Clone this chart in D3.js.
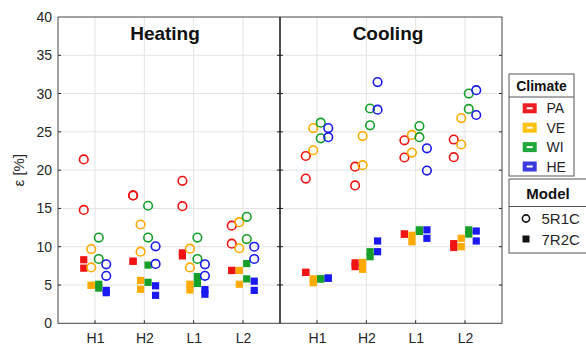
<!DOCTYPE html>
<html>
<head>
<meta charset="utf-8">
<script src="https://cdn.jsdelivr.net/npm/d3@7"></script>
<style>
  body { margin: 0; background: #fff; overflow: hidden; }
  svg { font-family: "Liberation Sans", Arial, sans-serif; display: block; }
</style>
</head>
<body>
<div id="wrapper"></div>
<script>
// 1. Data

const categories = ["H1", "H2", "L1", "L2"]
const climates = ["PA", "VE", "WI", "HE"]
const models = ["5R1C", "7R2C"]
const panels = ["Heating", "Cooling"]
const yTicks = [0, 5, 10, 15, 20, 25, 30, 35, 40]

// each row = one category, pairs in climate order PA, VE, WI, HE
const heating5R1C = [
  [[21.4, 14.8], [9.7, 7.3], [11.2, 8.4], [7.7, 6.2]],
  [[16.7, 16.7], [12.9, 9.35], [15.35, 11.2], [10.05, 7.75]],
  [[18.6, 15.3], [9.75, 7.3], [11.2, 8.4], [7.7, 6.2]],
  [[12.75, 10.4], [13.2, 9.8], [13.9, 11.0], [10.0, 8.4]],
]
const heating7R2C = [
  [[8.3, 7.2], [4.95, 4.95], [5.1, 4.6], [4.3, 4.0]],
  [[8.1, 8.1], [5.6, 4.45], [7.6, 5.35], [4.9, 3.65]],
  [[9.2, 8.8], [5.1, 4.35], [6.1, 5.2], [4.4, 3.8]],
  [[6.9, 6.9], [6.9, 5.1], [7.8, 5.8], [5.5, 4.3]],
]
const cooling5R1C = [
  [[21.85, 18.9], [25.5, 22.6], [26.2, 24.15], [25.5, 24.3]],
  [[20.45, 18.0], [24.45, 20.65], [28.05, 25.85], [31.5, 27.9]],
  [[23.9, 21.65], [24.6, 22.3], [25.75, 24.3], [22.85, 19.95]],
  [[24.0, 21.7], [26.8, 23.35], [30.0, 28.0], [30.45, 27.2]],
]
const cooling7R2C = [
  [[6.65, 6.65], [5.8, 5.3], [5.8, 5.8], [5.9, 5.9]],
  [[7.9, 7.4], [7.95, 7.05], [9.35, 8.7], [10.75, 9.35]],
  [[11.65, 11.65], [11.5, 10.65], [12.2, 12.0], [12.2, 11.1]],
  [[10.4, 9.9], [11.1, 10.0], [12.2, 11.65], [12.05, 10.75]],
]

const colors = ["#f01414", "#ffaa00", "#16a02a", "#1a1af0"]
const legendColors = ["#ee1c24", "#ffc20e", "#1fa83a", "#3a3adf"]

// 2. Dimensions

const dimensions = {
  width: 586,
  height: 349,
  left: 58,
  mid: 280,
  right: 502,
  top: 17,
  bottom: 323.3,
}

// 3. Canvas

const svg = d3.select("#wrapper")
  .append("svg")
  .attr("width", dimensions.width)
  .attr("height", dimensions.height)

// 4. Scales

const yScale = d3.scaleLinear()
  .domain([0, 40])
  .range([dimensions.bottom, dimensions.top])

const xScales = [
  d3.scalePoint().domain(categories).range([dimensions.left, dimensions.mid]).padding(0.75),
  d3.scalePoint().domain(categories).range([dimensions.mid, dimensions.right]).padding(0.75),
]
const offset = d3.scalePoint().domain(climates).range([-11.25, 11.25])
const colorScale = d3.scaleOrdinal().domain(climates).range(colors)
const legendColor = d3.scaleOrdinal().domain(climates).range(legendColors)

// grid
const grid = svg.append("g")
grid.selectAll(".hgrid")
  .data(yTicks.slice(1, -1))
  .join("line")
  .attr("x1", dimensions.left).attr("x2", dimensions.right)
  .attr("y1", d => yScale(d)).attr("y2", d => yScale(d))
  .attr("stroke", "#e3e3e3")
xScales.forEach(xs => {
  grid.append("g").selectAll("line")
    .data(categories)
    .join("line")
    .attr("x1", d => xs(d)).attr("x2", d => xs(d))
    .attr("y1", dimensions.top).attr("y2", dimensions.bottom)
    .attr("stroke", "#e3e3e3")
})

// 5. Points

const sets = [
  [heating5R1C, heating7R2C],
  [cooling5R1C, cooling7R2C],
]

sets.forEach((pair, p) => {
  const xs = xScales[p]
  const flat = (rows, model) => rows.flatMap((row, ci) =>
    row.flatMap((vals, k) => vals.map(v => ({
      cat: categories[ci], climate: climates[k], value: v, model
    }))))
  const circles = flat(pair[0], models[0])
  const squares = flat(pair[1], models[1])
  const g = svg.append("g")
  g.selectAll("rect")
    .data(squares)
    .join("rect")
    .attr("x", d => xs(d.cat) + offset(d.climate) - 3.6)
    .attr("y", d => yScale(d.value) - 3.6)
    .attr("width", 7.2)
    .attr("height", 7.2)
    .attr("fill", d => colorScale(d.climate))
  g.selectAll("circle")
    .data(circles)
    .join("circle")
    .attr("cx", d => xs(d.cat) + offset(d.climate))
    .attr("cy", d => yScale(d.value))
    .attr("r", 4.3)
    .attr("fill", "none")
    .attr("stroke", d => colorScale(d.climate))
    .attr("stroke-width", 1.6)
})

// 6. Axes

const axisColor = "#262626"
const yAxis = svg.append("g")
  .attr("transform", `translate(${dimensions.left},0)`)
  .call(d3.axisLeft(yScale).tickValues(yTicks).tickSize(0).tickPadding(6))
yAxis.select(".domain").remove()
yAxis.selectAll("text").attr("font-size", 14).attr("fill", axisColor)

xScales.forEach(xs => {
  const ax = svg.append("g")
    .attr("transform", `translate(0,${dimensions.bottom})`)
    .call(d3.axisBottom(xs).tickSize(0).tickPadding(10))
  ax.select(".domain").remove()
  ax.selectAll("text").attr("font-size", 14).attr("fill", axisColor)
  // inward ticks
  svg.append("g").selectAll("line")
    .data(categories)
    .join("line")
    .attr("x1", d => xs(d)).attr("x2", d => xs(d))
    .attr("y1", dimensions.bottom).attr("y2", dimensions.bottom - 3)
    .attr("stroke", axisColor)
})

// inward y ticks on all vertical borders
;[dimensions.left, dimensions.mid, dimensions.right].forEach((x, i) => {
  svg.append("g").selectAll("line")
    .data(yTicks.slice(1, -1))
    .join("line")
    .attr("x1", i === 2 ? x - 3 : x - (i === 1 ? 3 : 0))
    .attr("x2", x + (i === 2 ? 0 : 3))
    .attr("y1", d => yScale(d)).attr("y2", d => yScale(d))
    .attr("stroke", axisColor)
})

// frame
svg.append("rect")
  .attr("x", dimensions.left).attr("y", dimensions.top)
  .attr("width", dimensions.right - dimensions.left)
  .attr("height", dimensions.bottom - dimensions.top)
  .attr("fill", "none")
  .attr("stroke", "#444")
svg.append("line")
  .attr("x1", dimensions.mid).attr("x2", dimensions.mid)
  .attr("y1", dimensions.top).attr("y2", dimensions.bottom)
  .attr("stroke", "#111").attr("stroke-width", 1.5)

// y label
svg.append("text")
  .attr("transform", `translate(24,${(dimensions.top + dimensions.bottom) / 2}) rotate(-90)`)
  .attr("text-anchor", "middle")
  .attr("font-size", 15)
  .attr("fill", axisColor)
  .text("ε [%]")

// panel titles
panels.forEach((t, i) => {
  const xs = xScales[i]
  svg.append("text")
    .attr("x", (xs.range()[0] + xs.range()[1]) / 2 + (i === 0 ? -4 : -3))
    .attr("y", 40)
    .attr("text-anchor", "middle")
    .attr("font-size", 19)
    .attr("font-weight", "bold")
    .attr("fill", "#111")
    .text(t)
})

// 7. Legends

const lg = svg.append("g")
// Climate box
const cx0 = 509, cw = 65
lg.append("rect").attr("x", cx0).attr("y", 74).attr("width", cw).attr("height", 102)
  .attr("fill", "#fff").attr("stroke", "#555")
lg.append("line").attr("x1", cx0).attr("x2", cx0 + cw).attr("y1", 97).attr("y2", 97).attr("stroke", "#555")
lg.append("text").attr("x", cx0 + cw / 2).attr("y", 91).attr("text-anchor", "middle")
  .attr("font-size", 14).attr("font-weight", "bold").attr("fill", "#111").text("Climate")
const climItems = lg.selectAll(".clim")
  .data(climates)
  .join("g")
  .attr("transform", (d, i) => `translate(0,${108.3 + i * 19.4})`)
climItems.append("rect")
  .attr("x", 522.7).attr("y", -5).attr("width", 14).attr("height", 10)
  .attr("fill", d => legendColor(d))
climItems.append("rect")
  .attr("x", 526.7).attr("y", -1).attr("width", 6).attr("height", 2)
  .attr("fill", "#fff")
climItems.append("text")
  .attr("x", 546.5).attr("y", 5)
  .attr("font-size", 14).attr("fill", axisColor)
  .text(d => d)

// Model box (runs off the right edge)
const mx0 = 509, mw = 90
lg.append("rect").attr("x", mx0).attr("y", 179).attr("width", mw).attr("height", 74)
  .attr("fill", "#fff").attr("stroke", "#555")
lg.append("line").attr("x1", mx0).attr("x2", mx0 + mw).attr("y1", 206.5).attr("y2", 206.5).attr("stroke", "#555")
lg.append("text").attr("x", 548).attr("y", 199).attr("text-anchor", "middle")
  .attr("font-size", 15).attr("font-weight", "bold").attr("fill", "#111").text("Model")
const modelItems = lg.selectAll(".model")
  .data(models)
  .join("g")
  .attr("transform", (d, i) => `translate(0,${218.5 + i * 20.5})`)
modelItems.filter((d, i) => i === 0).append("circle")
  .attr("cx", 526).attr("cy", 0).attr("r", 3.6)
  .attr("fill", "none").attr("stroke", "#111").attr("stroke-width", 1.6)
modelItems.filter((d, i) => i === 1).append("rect")
  .attr("x", 522.5).attr("y", -3.5).attr("width", 7).attr("height", 7)
  .attr("fill", "#111")
modelItems.append("text")
  .attr("x", 541.5).attr("y", 5.5)
  .attr("font-size", 15).attr("fill", axisColor)
  .text(d => d)
</script>
</body>
</html>
